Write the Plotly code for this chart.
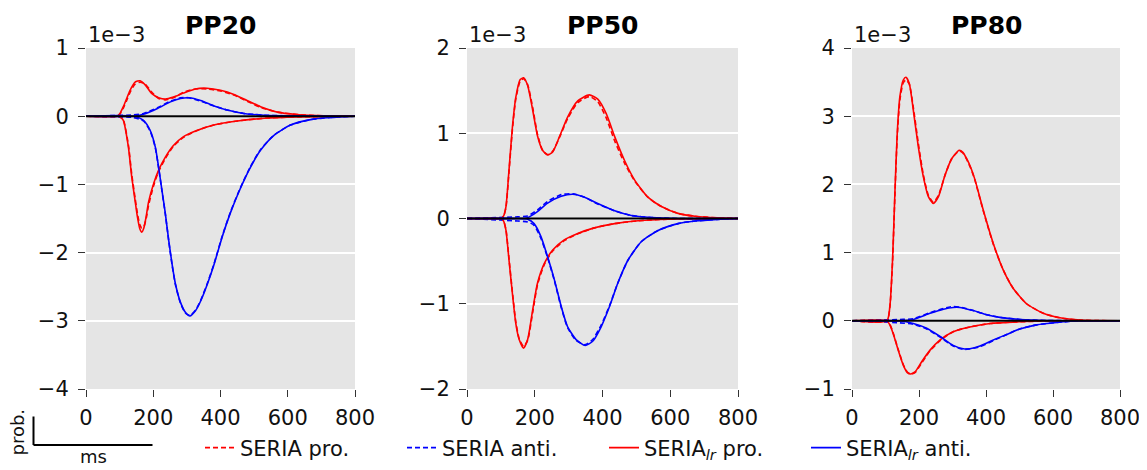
import plotly.graph_objects as go

# ---------------- data (units of 1e-3) ----------------
panel_titles = ["PP20", "PP50", "PP80"]
x_ticks = [0, 200, 400, 600, 800]
y_ranges = [[-4, 1], [-2, 2], [-1, 4]]

# PP20
pp20_pro_pos_t = [0, 92, 101, 111, 121, 131, 146, 161, 176, 196, 216, 236, 260, 290, 325, 360, 400, 440, 479, 519, 569, 628, 708, 800]
pp20_pro_pos_lr = [0, 0, 0.04, 0.14, 0.26, 0.38, 0.50, 0.52, 0.46, 0.33, 0.27, 0.25, 0.28, 0.34, 0.40, 0.41, 0.38, 0.32, 0.23, 0.14, 0.06, 0.025, 0.005, 0]
pp20_pro_pos_seria = [0, 0, 0.03, 0.12, 0.23, 0.35, 0.47, 0.50, 0.47, 0.35, 0.26, 0.24, 0.27, 0.35, 0.40, 0.40, 0.37, 0.31, 0.22, 0.13, 0.06, 0.025, 0.005, 0]
pp20_pro_neg_t = [0, 97, 104, 111, 126, 136, 146, 153, 160, 166, 172, 179, 186, 201, 216, 236, 260, 290, 330, 380, 450, 530, 630, 800]
pp20_pro_neg_lr = [0, 0, -0.02, -0.06, -0.45, -0.89, -1.24, -1.48, -1.65, -1.70, -1.64, -1.47, -1.26, -0.99, -0.79, -0.60, -0.43, -0.30, -0.21, -0.13, -0.07, -0.03, -0.01, 0]
pp20_pro_neg_seria = [0, 0, -0.02, -0.05, -0.42, -0.85, -1.20, -1.43, -1.59, -1.64, -1.62, -1.50, -1.31, -1.02, -0.81, -0.62, -0.44, -0.31, -0.21, -0.13, -0.07, -0.03, -0.01, 0]
pp20_anti_pos_t = [0, 141, 171, 211, 251, 281, 306, 341, 381, 420, 469, 529, 608, 800]
pp20_anti_pos_lr = [0, 0, 0.03, 0.11, 0.21, 0.26, 0.27, 0.23, 0.15, 0.09, 0.04, 0.015, 0.005, 0]
pp20_anti_pos_seria = [0, 0.02, 0.04, 0.12, 0.22, 0.27, 0.27, 0.22, 0.15, 0.09, 0.04, 0.015, 0.005, 0]
pp20_anti_neg_t = [0, 141, 171, 191, 206, 216, 226, 236, 246, 256, 266, 281, 296, 309, 326, 341, 361, 381, 405, 430, 459, 489, 519, 559, 608, 668, 727, 800]
pp20_anti_neg_lr = [0, 0, -0.06, -0.21, -0.45, -0.75, -1.09, -1.43, -1.82, -2.17, -2.46, -2.73, -2.88, -2.93, -2.85, -2.71, -2.46, -2.17, -1.77, -1.41, -1.06, -0.75, -0.50, -0.28, -0.13, -0.05, -0.02, 0]
pp20_anti_neg_seria = [0, -0.02, -0.07, -0.22, -0.46, -0.76, -1.10, -1.44, -1.83, -2.18, -2.47, -2.74, -2.89, -2.92, -2.84, -2.70, -2.45, -2.16, -1.76, -1.40, -1.05, -0.74, -0.49, -0.28, -0.13, -0.05, -0.02, 0]

# PP50
pp50_pro_pos_t = [0, 100, 108, 115, 124, 134, 144, 157, 167, 179, 194, 208, 223, 238, 253, 273, 297, 327, 361, 386, 411, 436, 465, 495, 534, 574, 623, 673, 740, 800]
pp50_pro_pos_lr = [0, 0, 0.03, 0.14, 0.57, 1.07, 1.42, 1.63, 1.65, 1.56, 1.27, 0.97, 0.80, 0.745, 0.78, 0.96, 1.19, 1.38, 1.45, 1.40, 1.23, 0.96, 0.68, 0.45, 0.25, 0.14, 0.06, 0.027, 0.008, 0]
pp50_pro_pos_seria = [0, 0, 0.03, 0.13, 0.55, 1.04, 1.40, 1.61, 1.64, 1.57, 1.30, 0.99, 0.80, 0.75, 0.79, 0.95, 1.17, 1.36, 1.43, 1.37, 1.18, 0.91, 0.65, 0.44, 0.25, 0.14, 0.06, 0.027, 0.008, 0]
pp50_pro_neg_t = [0, 100, 108, 115, 124, 134, 144, 154, 167, 179, 194, 208, 228, 253, 287, 327, 376, 436, 505, 594, 800]
pp50_pro_neg_lr = [0, 0, -0.03, -0.14, -0.49, -0.88, -1.23, -1.42, -1.52, -1.42, -1.07, -0.76, -0.53, -0.37, -0.25, -0.175, -0.11, -0.06, -0.027, -0.008, 0]
pp50_pro_neg_seria = [0, 0, -0.03, -0.13, -0.47, -0.86, -1.21, -1.41, -1.50, -1.43, -1.10, -0.78, -0.54, -0.38, -0.26, -0.18, -0.11, -0.06, -0.027, -0.008, 0]
pp50_anti_pos_t = [0, 150, 179, 208, 238, 278, 312, 347, 386, 436, 485, 544, 623, 800]
pp50_anti_pos_lr = [0, 0, 0.01, 0.08, 0.18, 0.26, 0.285, 0.25, 0.175, 0.09, 0.035, 0.012, 0, 0]
pp50_anti_pos_seria = [0, 0.02, 0.03, 0.10, 0.20, 0.28, 0.29, 0.25, 0.17, 0.09, 0.035, 0.012, 0, 0]
pp50_anti_neg_t = [0, 150, 179, 198, 218, 238, 258, 278, 297, 322, 349, 371, 396, 421, 445, 475, 515, 564, 623, 673, 740, 800]
pp50_anti_neg_lr = [0, 0, -0.01, -0.06, -0.21, -0.45, -0.72, -1.03, -1.27, -1.42, -1.49, -1.44, -1.27, -1.03, -0.76, -0.49, -0.27, -0.14, -0.06, -0.03, -0.01, 0]
pp50_anti_neg_seria = [0, -0.03, -0.04, -0.08, -0.23, -0.46, -0.73, -1.04, -1.28, -1.43, -1.48, -1.42, -1.25, -1.02, -0.76, -0.49, -0.27, -0.14, -0.06, -0.03, -0.01, 0]

# PP80
pp80_pro_pos_t = [0, 104, 113, 121, 128, 135, 143, 153, 161, 171, 183, 198, 213, 228, 243, 258, 278, 298, 320, 331, 342, 355, 367, 392, 422, 452, 482, 521, 571, 621, 681, 800]
pp80_pro_pos_lr = [0, 0, 0.21, 0.89, 1.87, 2.75, 3.29, 3.53, 3.57, 3.48, 3.09, 2.55, 2.11, 1.82, 1.72, 1.82, 2.14, 2.38, 2.50, 2.47, 2.38, 2.24, 2.07, 1.62, 1.13, 0.74, 0.47, 0.25, 0.11, 0.044, 0.01, 0]
pp80_pro_pos_seria = [0, 0, 0.20, 0.86, 1.83, 2.70, 3.24, 3.49, 3.53, 3.47, 3.13, 2.60, 2.14, 1.84, 1.74, 1.84, 2.14, 2.38, 2.49, 2.46, 2.37, 2.23, 2.06, 1.61, 1.12, 0.74, 0.47, 0.25, 0.11, 0.044, 0.01, 0]
pp80_pro_neg_t = [0, 104, 113, 123, 138, 153, 165, 175, 188, 208, 233, 263, 302, 352, 412, 501, 600, 800]
pp80_pro_neg_lr = [0, 0, -0.06, -0.19, -0.43, -0.65, -0.76, -0.78, -0.75, -0.60, -0.43, -0.28, -0.16, -0.09, -0.04, -0.015, 0, 0]
pp80_pro_neg_seria = [0, 0, -0.05, -0.18, -0.42, -0.64, -0.75, -0.78, -0.76, -0.62, -0.44, -0.29, -0.16, -0.09, -0.04, -0.015, 0, 0]
pp80_anti_pos_t = [0, 143, 183, 233, 273, 302, 322, 362, 402, 442, 502, 581, 800]
pp80_anti_pos_lr = [0, 0, 0.02, 0.11, 0.17, 0.196, 0.196, 0.15, 0.09, 0.05, 0.02, 0.005, 0]
pp80_anti_pos_seria = [0, 0.02, 0.03, 0.12, 0.18, 0.21, 0.20, 0.15, 0.09, 0.05, 0.02, 0.005, 0]
pp80_anti_neg_t = [0, 143, 183, 223, 263, 302, 332, 352, 382, 422, 462, 501, 551, 611, 681, 800]
pp80_anti_neg_lr = [0, 0, -0.04, -0.11, -0.23, -0.36, -0.41, -0.41, -0.37, -0.28, -0.20, -0.12, -0.06, -0.025, 0, 0]
pp80_anti_neg_seria = [0, -0.03, -0.05, -0.12, -0.24, -0.37, -0.42, -0.41, -0.38, -0.29, -0.20, -0.12, -0.06, -0.025, 0, 0]

legend_names = ["SERIA pro.", "SERIA anti.",
                "SERIA<sub><i>lr</i></sub> pro.", "SERIA<sub><i>lr</i></sub> anti."]

panels = [
    [(pp20_pro_pos_t, pp20_pro_pos_seria, pp20_pro_pos_lr, "pro"),
     (pp20_pro_neg_t, pp20_pro_neg_seria, pp20_pro_neg_lr, "pro"),
     (pp20_anti_pos_t, pp20_anti_pos_seria, pp20_anti_pos_lr, "anti"),
     (pp20_anti_neg_t, pp20_anti_neg_seria, pp20_anti_neg_lr, "anti")],
    [(pp50_pro_pos_t, pp50_pro_pos_seria, pp50_pro_pos_lr, "pro"),
     (pp50_pro_neg_t, pp50_pro_neg_seria, pp50_pro_neg_lr, "pro"),
     (pp50_anti_pos_t, pp50_anti_pos_seria, pp50_anti_pos_lr, "anti"),
     (pp50_anti_neg_t, pp50_anti_neg_seria, pp50_anti_neg_lr, "anti")],
    [(pp80_pro_pos_t, pp80_pro_pos_seria, pp80_pro_pos_lr, "pro"),
     (pp80_pro_neg_t, pp80_pro_neg_seria, pp80_pro_neg_lr, "pro"),
     (pp80_anti_pos_t, pp80_anti_pos_seria, pp80_anti_pos_lr, "anti"),
     (pp80_anti_neg_t, pp80_anti_neg_seria, pp80_anti_neg_lr, "anti")],
]

# ---------------- styling ----------------
FONT = "DejaVu Sans"
OFF = 8                       # page body margin offset
W, H = 1147 - OFF, 470 - OFF
ML, MR, MT, MB = 86 - OFF, 27, 48 - OFF, 81
PW = W - ML - MR
PH = H - MT - MB
colors = {"pro": "#FF0000", "anti": "#0000FF"}
panel_px = [(86, 355), (467, 738), (852, 1120)]   # page pixels


def px_x(px):
    return (px - OFF - ML) / PW


def px_y(py):
    return (MT + PH - (py - OFF)) / PH


domains = [[px_x(a), px_x(b)] for a, b in panel_px]

fig = go.Figure()

shown = set()
for i, curves in enumerate(panels):
    xa = "x" if i == 0 else f"x{i+1}"
    ya = "y" if i == 0 else f"y{i+1}"
    for t, ys, ylr, kind in curves:
        name = legend_names[0] if kind == "pro" else legend_names[1]
        fig.add_trace(go.Scatter(
            x=t, y=ys, mode="lines", xaxis=xa, yaxis=ya,
            line=dict(color=colors[kind], width=1.6, dash="5px,3px", shape="spline", smoothing=0.6),
            name=name, legendgroup=name, showlegend=(name not in shown), hoverinfo="skip"))
        shown.add(name)
    for t, ys, ylr, kind in curves:
        name = legend_names[2] if kind == "pro" else legend_names[3]
        fig.add_trace(go.Scatter(
            x=t, y=ylr, mode="lines", xaxis=xa, yaxis=ya,
            line=dict(color=colors[kind], width=1.6, shape="spline", smoothing=0.6),
            name=name, legendgroup=name, showlegend=(name not in shown), hoverinfo="skip"))
        shown.add(name)

axis_common = dict(ticks="outside", ticklen=7, tickwidth=1.2, tickcolor="#333333",
                   showline=False, zeroline=False,
                   tickfont=dict(family=FONT, size=21, color="#111111"))
layout_axes = {}
for i in range(3):
    sx = "xaxis" if i == 0 else f"xaxis{i+1}"
    sy = "yaxis" if i == 0 else f"yaxis{i+1}"
    xa = "x" if i == 0 else f"x{i+1}"
    layout_axes[sx] = dict(domain=domains[i], range=[0, 800], tickvals=x_ticks,
                           showgrid=False, anchor=("y" if i == 0 else f"y{i+1}"),
                           ticklabelstandoff=3, **axis_common)
    layout_axes[sy] = dict(range=y_ranges[i], dtick=1, anchor=xa,
                           showgrid=True, gridcolor="white", gridwidth=1.5,
                           ticklabelstandoff=5, **axis_common)

annotations = []
shapes = []
for i in range(3):
    xa = "x" if i == 0 else f"x{i+1}"
    ya = "y" if i == 0 else f"y{i+1}"
    d0, d1 = domains[i]
    annotations.append(dict(text=f"<b>{panel_titles[i]}</b>", x=(d0 + d1) / 2, y=1,
                            xref="paper", yref="paper", xanchor="center", yanchor="bottom",
                            yshift=6, showarrow=False,
                            font=dict(family=FONT, size=25, color="black")))
    annotations.append(dict(text="1e\u22123", x=d0, y=1, xref="paper", yref="paper",
                            xanchor="left", yanchor="bottom", yshift=-1, showarrow=False,
                            font=dict(family=FONT, size=21, color="#111111")))
    shapes.append(dict(type="line", xref=f"{xa} domain", yref=ya, x0=0, x1=1, y0=0, y1=0,
                       line=dict(color="black", width=2), layer="above"))

# scale bar (prob. / ms)
shapes.append(dict(type="line", xref="paper", yref="paper", x0=px_x(33.5), x1=px_x(33.5),
                   y0=px_y(416.5), y1=px_y(445), line=dict(color="black", width=2)))
shapes.append(dict(type="line", xref="paper", yref="paper", x0=px_x(33.5), x1=px_x(152.5),
                   y0=px_y(445), y1=px_y(445), line=dict(color="black", width=2)))
annotations.append(dict(text="prob.", x=px_x(17.5), y=px_y(432), xref="paper", yref="paper",
                        textangle=-90, showarrow=False, xanchor="center", yanchor="middle",
                        font=dict(family=FONT, size=18, color="#111111")))
annotations.append(dict(text="ms", x=px_x(93), y=px_y(469), xref="paper", yref="paper",
                        showarrow=False, xanchor="center", yanchor="bottom",
                        font=dict(family=FONT, size=18, color="#111111")))

fig.update_layout(
    width=W, height=H,
    margin=dict(l=ML, r=MR, t=MT, b=MB, autoexpand=False),
    paper_bgcolor="white", plot_bgcolor="#E5E5E5",
    font=dict(family=FONT, color="#111111"),
    showlegend=True,
    legend=dict(orientation="h", x=px_x(200), y=px_y(448), xanchor="left", yanchor="middle",
                font=dict(family=FONT, size=21, color="#111111"),
                bgcolor="rgba(0,0,0,0)", itemwidth=30, traceorder="normal",
                entrywidth=157, entrywidthmode="pixels"),
    annotations=annotations, shapes=shapes,
    **layout_axes,
)

fig.write_html("out.html")
